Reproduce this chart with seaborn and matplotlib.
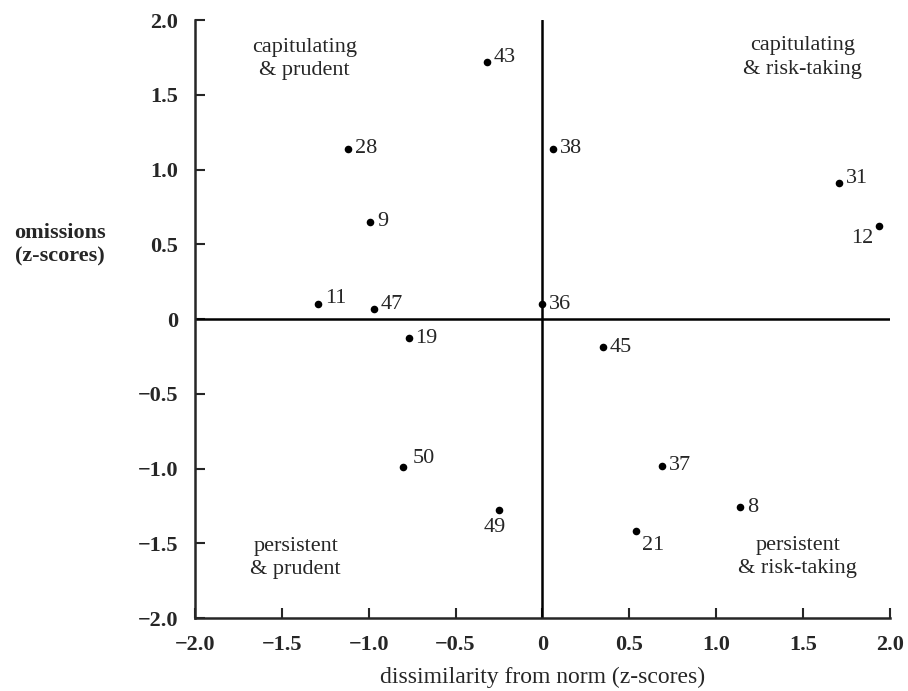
import matplotlib
matplotlib.use("Agg")
import matplotlib.pyplot as plt
import seaborn as sns
import pandas as pd

# subject numbers and their z-scores
ids = ["43", "28", "9", "11", "47", "19", "38", "31", "12", "36",
       "45", "50", "49", "37", "8", "21"]
dissim = [-0.32, -1.12, -0.99, -1.29, -0.97, -0.77, 0.06, 1.71, 1.94, 0.0,
          0.35, -0.80, -0.25, 0.69, 1.14, 0.54]
omiss = [1.72, 1.14, 0.65, 0.10, 0.07, -0.13, 1.14, 0.91, 0.62, 0.10,
         -0.19, -0.99, -1.28, -0.98, -1.26, -1.42]

ticks = [-2.0, -1.5, -1.0, -0.5, 0, 0.5, 1.0, 1.5, 2.0]
tick_labels = ["\u22122.0", "\u22121.5", "\u22121.0", "\u22120.5", "0",
               "0.5", "1.0", "1.5", "2.0"]

quadrants = ["capitulating\n& prudent", "capitulating\n& risk-taking",
             "persistent\n& prudent", "persistent\n& risk-taking"]

df = pd.DataFrame({"id": ids, "x": dissim, "y": omiss})

sns.set_style("ticks")
plt.rcParams["font.family"] = ["Liberation Serif", "DejaVu Serif"]

fig = plt.figure(figsize=(9.08, 6.91), dpi=100)
ax = fig.add_axes([0.2148, 0.1056, 0.765, 0.8654])

sns.scatterplot(data=df, x="x", y="y", color="black", s=30,
                edgecolor="black", linewidth=0, ax=ax, zorder=3)

# label offsets (points) for each subject number
offs = {"43": (5, 3), "28": (5, 0), "9": (5, 0), "11": (5, 4), "47": (5, 3),
        "19": (5, 0), "38": (5, 0), "31": (5, 3), "12": (-4, -9),
        "36": (5, 0), "45": (5, 0), "50": (7, 6), "49": (-3, -12),
        "37": (5, 0), "8": (5, 0), "21": (4, -10)}
for i, r in df.iterrows():
    dx, dy = offs[r["id"]]
    ha = "right" if dx < 0 else "left"
    if r["id"] == "49":
        ha = "center"
    ax.annotate(r["id"], (r["x"], r["y"]), xytext=(dx, dy),
                textcoords="offset points", ha=ha, va="center",
                fontsize=16)

ax.axvline(0, color="black", lw=1.8, zorder=1)
ax.axhline(0, color="black", lw=1.8, zorder=1)

qx = [-1.37, 1.50, -1.42, 1.47]
qy = [1.74, 1.75, -1.60, -1.59]
for t, x, y in zip(quadrants, qx, qy):
    ax.text(x, y, t, ha="center", va="center", fontsize=16, linespacing=1.3)

ax.set_xlim(-2.0, 2.0)
ax.set_ylim(-2.0, 2.0)
ax.set_xticks(ticks)
ax.set_xticklabels(tick_labels, fontsize=16, fontweight="bold")
ax.set_yticks(ticks)
ax.set_yticklabels(tick_labels, fontsize=16, fontweight="bold")
ax.tick_params(direction="in", length=7, width=1.5, pad=12)
sns.despine(ax=ax)
for s in ["left", "bottom"]:
    ax.spines[s].set_linewidth(1.8)

ax.set_xlabel("dissimilarity from norm (z-scores)", fontsize=17, labelpad=9)
ax.set_ylabel("omissions\n(z-scores)", fontsize=16, rotation=0,
              ha="center", va="center", fontweight="bold", linespacing=1.2)
ax.yaxis.set_label_coords(-0.194, 0.624)

fig.savefig("out.png", dpi=100)
